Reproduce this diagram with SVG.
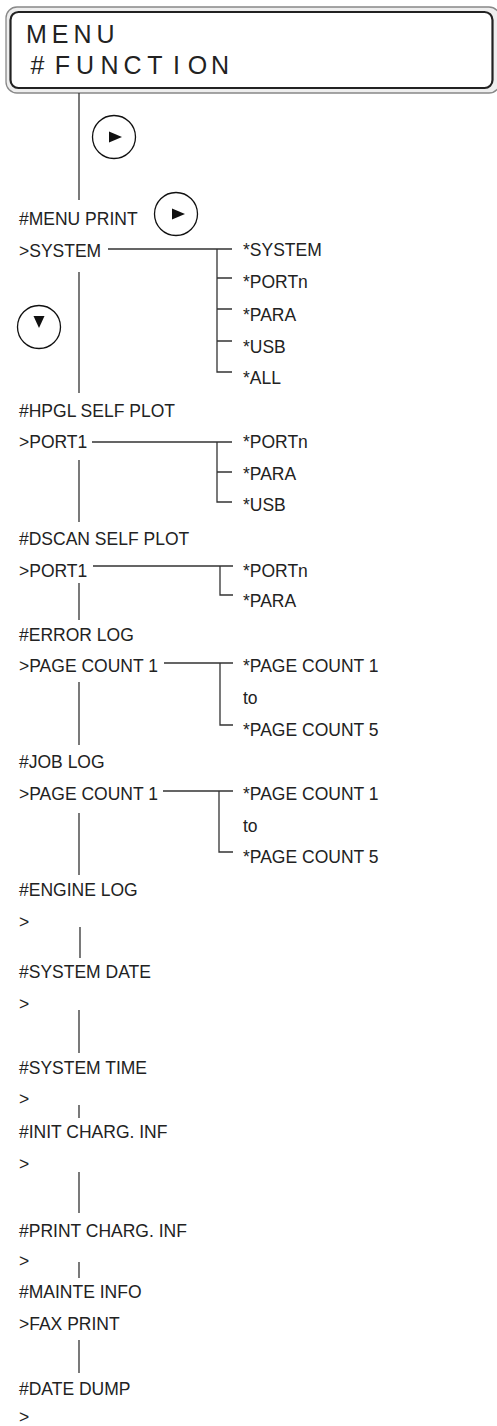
<svg xmlns="http://www.w3.org/2000/svg" width="497" height="1426" viewBox="0 0 497 1426">
<style>
.t{font-family:"Liberation Sans",Arial,sans-serif;font-size:17.5px;fill:#222}
.lcd{font-family:"Liberation Sans",Arial,sans-serif;font-size:25px;fill:#222;text-anchor:middle}
.ln{stroke:#333;stroke-width:1.3;fill:none}
.btn{fill:#fff;stroke:#111;stroke-width:1.3}
.tri{fill:#111}
</style>
<rect width="497" height="1426" fill="#fff"/>
<g id="display">
<rect x="6" y="7" width="494" height="86" rx="11" fill="#eee" stroke="#888" stroke-width="1.3"/>
<rect x="10.5" y="12" width="482" height="76" rx="8" fill="#fff" stroke="#222" stroke-width="2.2"/>
<text class="lcd" x="36.5 60 82.5 105.5" y="43">MENU</text>
<text class="lcd" x="37.5 62.5 85 109.5 132.5 155 176.5 197.5 220" y="74">#FUNCTION</text>
</g>
<g id="buttons">
<g id="btn-right-1"><circle class="btn" cx="114" cy="137" r="21.5"/><polygon class="tri" points="109,131.5 109,142.5 122,137"/></g>
<g id="btn-right-2"><circle class="btn" cx="176" cy="214" r="21.5"/><polygon class="tri" points="172,208.5 172,219.5 185,214"/></g>
<g id="btn-down"><circle class="btn" cx="39" cy="327" r="21.5"/><polygon class="tri" points="33.5,316 44.5,316 39,328"/></g>
</g>
<g id="connectors">
<path class="ln" d="M79,93 V200 M79,272 V393 M79,460 V522 M79,583 V620 M79,682 V745 M79,813 V875 M80,927 V958 M79,1010 V1053 M79,1105 V1118 M79,1172 V1213 M79,1262 V1278 M79,1340 V1373"/>
<path class="ln" d="M108,249 H232 M217,249 V372 H232 M217,278 H232 M217,309 H232 M217,341 H232"/>
<path class="ln" d="M92,442 H232 M217,442 V502 H232 M217,472 H232"/>
<path class="ln" d="M93,566 H233 M220,566 V595 H233"/>
<path class="ln" d="M164,663 H233 M220,663 V725 H233"/>
<path class="ln" d="M163,791 H233 M219,791 V852 H233"/>
</g>
<g id="node-menu-print"><text class="t" x="19" y="225">#MENU PRINT</text><text class="t" x="19" y="257">&gt;SYSTEM</text></g>
<g id="opts-menu-print">
<text class="t" x="243" y="256">*SYSTEM</text>
<text class="t" x="243" y="288">*PORTn</text>
<text class="t" x="243" y="321">*PARA</text>
<text class="t" x="243" y="353">*USB</text>
<text class="t" x="243" y="384">*ALL</text>
</g>
<g id="node-hpgl"><text class="t" x="19" y="417">#HPGL SELF PLOT</text><text class="t" x="19" y="448">&gt;PORT1</text></g>
<g id="opts-hpgl">
<text class="t" x="243" y="448">*PORTn</text>
<text class="t" x="243" y="480">*PARA</text>
<text class="t" x="243" y="511">*USB</text>
</g>
<g id="node-dscan"><text class="t" x="19" y="545">#DSCAN SELF PLOT</text><text class="t" x="19" y="577">&gt;PORT1</text></g>
<g id="opts-dscan">
<text class="t" x="243" y="577">*PORTn</text>
<text class="t" x="243" y="607">*PARA</text>
</g>
<g id="node-error-log"><text class="t" x="19" y="641">#ERROR LOG</text><text class="t" x="19" y="672">&gt;PAGE COUNT 1</text></g>
<g id="opts-error-log">
<text class="t" x="243" y="672">*PAGE COUNT 1</text>
<text class="t" x="243" y="704">to</text>
<text class="t" x="243" y="736">*PAGE COUNT 5</text>
</g>
<g id="node-job-log"><text class="t" x="19" y="768">#JOB LOG</text><text class="t" x="19" y="800">&gt;PAGE COUNT 1</text></g>
<g id="opts-job-log">
<text class="t" x="243" y="800">*PAGE COUNT 1</text>
<text class="t" x="243" y="832">to</text>
<text class="t" x="243" y="863">*PAGE COUNT 5</text>
</g>
<g id="node-engine-log"><text class="t" x="19" y="896">#ENGINE LOG</text><text class="t" x="19" y="928">&gt;</text></g>
<g id="node-system-date"><text class="t" x="19" y="978">#SYSTEM DATE</text><text class="t" x="19" y="1010">&gt;</text></g>
<g id="node-system-time"><text class="t" x="19" y="1074">#SYSTEM TIME</text><text class="t" x="19" y="1105">&gt;</text></g>
<g id="node-init-charg"><text class="t" x="19" y="1138">#INIT CHARG. INF</text><text class="t" x="19" y="1170">&gt;</text></g>
<g id="node-print-charg"><text class="t" x="19" y="1237">#PRINT CHARG. INF</text><text class="t" x="19" y="1267">&gt;</text></g>
<g id="node-mainte-info"><text class="t" x="19" y="1298">#MAINTE INFO</text><text class="t" x="19" y="1330">&gt;FAX PRINT</text></g>
<g id="node-date-dump"><text class="t" x="19" y="1395">#DATE DUMP</text><text class="t" x="19" y="1423">&gt;</text></g>
</svg>
